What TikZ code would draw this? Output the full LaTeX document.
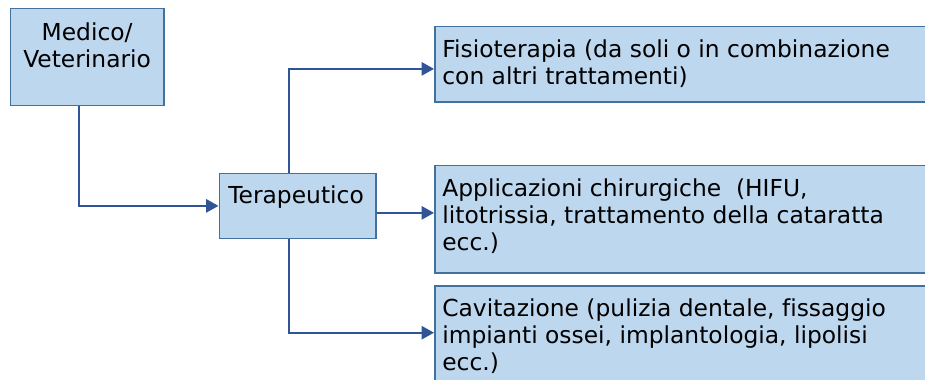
\documentclass[tikz,border=0pt]{standalone}
\usepackage{fontspec}
\setmainfont[Ligatures=NoCommon]{DejaVu Sans}
\usepackage{tikz}
\usetikzlibrary{arrows.meta, calc}

\definecolor{boxfill}{RGB}{189,215,238}
\definecolor{boxline}{RGB}{65,113,156}
\definecolor{linkcol}{RGB}{47,85,151}

\begin{document}
\begin{tikzpicture}[>={Triangle[length=7pt, width=7.5pt]},
    font=\fontsize{13.3}{15.4}\selectfont,
    box/.style={draw=boxline, fill=boxfill, line width=1pt, anchor=north west, inner sep=0pt},
    boxtext/.style={anchor=north west, align=left, inner sep=0pt},
    conn/.style={draw=linkcol, line width=1.1pt, ->}]
    % Area
    \clip (0, 0) rectangle (18.5, -7.58);

    % Medico / Veterinario
    \node[box, minimum width=3.07cm, minimum height=1.94cm] (medico) at (0.19, -0.15) {};
    \node[anchor=north, align=center, inner sep=0pt] (medicotxt) at ([yshift=-0.3cm]medico.north) {Medico/\\Veterinario};

    % Terapeutico
    \node[box, minimum width=3.13cm, minimum height=1.3cm] (terap) at (4.37, -3.45) {};
    \node[boxtext] (teraptxt) at ([shift={(0.19,-0.25)}]terap.north west) {Terapeutico};

    % Applicazioni (a destra, tagliate dal bordo)
    \node[box, minimum width=10cm, minimum height=1.51cm] (fisio) at (8.68, -0.51) {};
    \node[boxtext] (fisiotxt) at ([shift={(0.16,-0.27)}]fisio.north west)
        {Fisioterapia (da soli o in combinazione\\con altri trattamenti)};

    \node[box, minimum width=10cm, minimum height=2.15cm] (chir) at (8.68, -3.29) {};
    \node[boxtext] (chirtxt) at ([shift={(0.16,-0.27)}]chir.north west)
        {Applicazioni chirurgiche\ \ (HIFU,\\litotrissia, trattamento della cataratta\\ecc.)};

    \node[box, minimum width=10cm, minimum height=2cm] (cavit) at (8.68, -5.7) {};
    \node[boxtext] (cavittxt) at ([shift={(0.16,-0.26)}]cavit.north west)
        {Cavitazione (pulizia dentale, fissaggio\\impianti ossei, implantologia, lipolisi\\ecc.)};

    % Collegamenti
    \draw[conn] ([xshift=-0.165cm]medico.south) |- (terap.west);
    \draw[conn] ([xshift=-0.175cm]terap.north) |- ([yshift=-0.095cm]fisio.west);
    \draw[conn] ([yshift=-0.14cm]terap.east) -- ([yshift=-0.14cm]terap.east -| chir.west);
    \draw[conn] ([xshift=-0.175cm]terap.south) |- ([yshift=-0.954cm]cavit.north west);
\end{tikzpicture}
\end{document}
